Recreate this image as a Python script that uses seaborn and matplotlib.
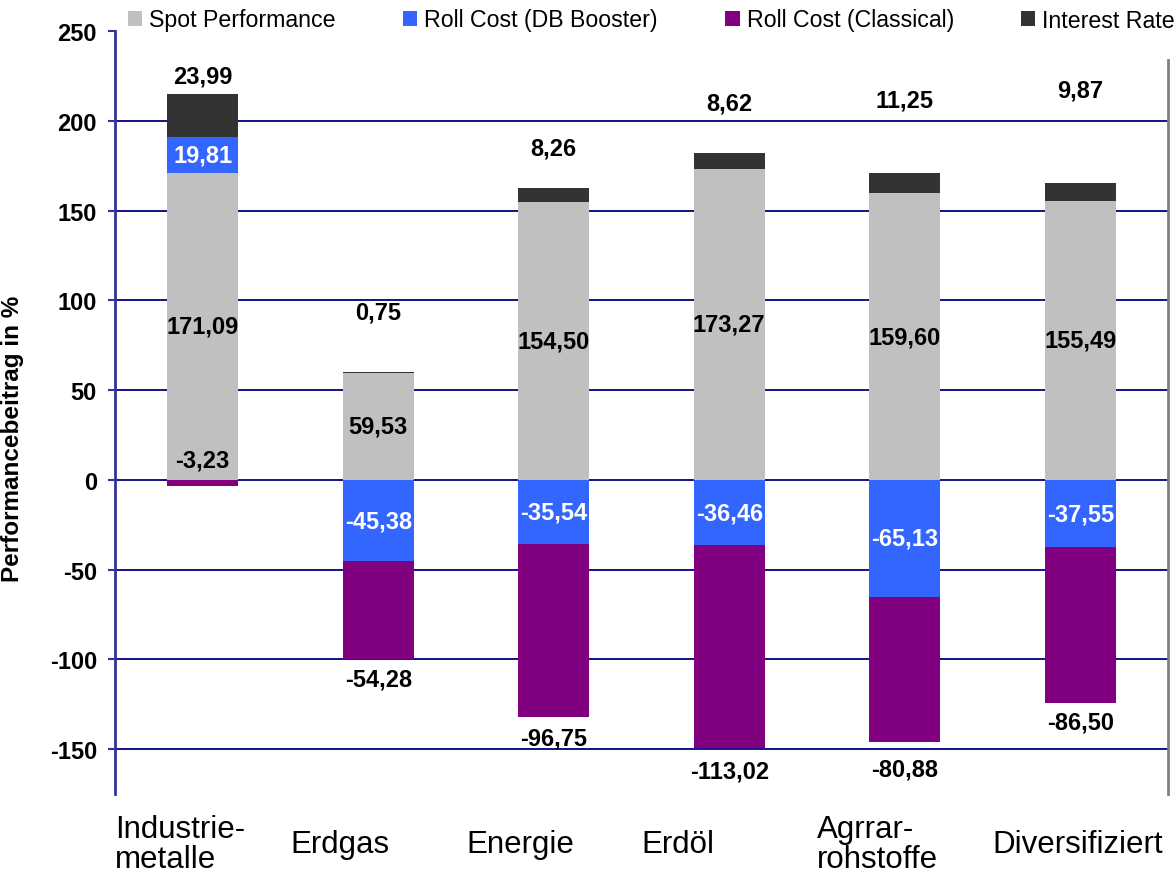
import matplotlib
matplotlib.use("Agg")
import matplotlib.pyplot as plt
import seaborn as sns
import numpy as np
from matplotlib.patches import Patch

categories = ["Industrie-\nmetalle", "Erdgas", "Energie", "Erdöl", "Agrrar-\nrohstoffe", "Diversifiziert"]
spot = [171.09, 59.53, 154.50, 173.27, 159.60, 155.49]
roll_booster = [19.81, -45.38, -35.54, -36.46, -65.13, -37.55]
roll_classical = [-3.23, -54.28, -96.75, -113.02, -80.88, -86.50]
interest = [23.99, 0.75, 8.26, 8.62, 11.25, 9.87]
series_names = ["Spot Performance", "Roll Cost (DB Booster)", "Roll Cost (Classical)", "Interest Rate"]
yticks = [-150, -100, -50, 0, 50, 100, 150, 200, 250]

# style / label placement (offsets in data units)
colors = ["#C0C0C0", "#3366FF", "#800080", "#333333"]
interest_label_offset = [10.1, 33.4, 22.1, 27.8, 40.8, 51.8]
classical_label_offset = [14.5, -11.4, -11.6, -12.7, -15.1, -10.9]

sns.set_theme(style="white")
plt.rcParams["font.family"] = ["Liberation Sans", "DejaVu Sans"]
plt.rcParams["text.color"] = "black"
plt.rcParams["axes.labelcolor"] = "black"
plt.rcParams["xtick.color"] = "black"
plt.rcParams["ytick.color"] = "black"

fig = plt.figure(figsize=(11.76, 8.79), dpi=100)
ax = fig.add_axes([115/1176, 1-795/879, (1168-115)/1176, (795-32)/879])

series = [spot, roll_booster, roll_classical, interest]
pos_cum = np.zeros(len(categories))
neg_cum = np.zeros(len(categories))
bottoms = []
for vals in series:
    v = np.array(vals, dtype=float)
    b = np.where(v >= 0, pos_cum, neg_cum)
    bottoms.append(b.copy())
    pos_cum = pos_cum + np.where(v >= 0, v, 0)
    neg_cum = neg_cum + np.where(v < 0, v, 0)

for vals, b, col in zip(series, bottoms, colors):
    sns.barplot(x=categories, y=vals, bottom=b, color=col, width=0.405,
                saturation=1, linewidth=0, ax=ax, zorder=3)

def fmt(v):
    return f"{v:.2f}".replace(".", ",")

lab_kw = dict(ha="center", va="center", fontsize=17, fontweight="bold", zorder=5)
for i in range(len(categories)):
    ax.text(i, bottoms[0][i] + spot[i] / 2, fmt(spot[i]), color="black", **lab_kw)
    ax.text(i, bottoms[1][i] + roll_booster[i] / 2, fmt(roll_booster[i]), color="white", **lab_kw)
    ax.text(i, neg_cum[i] + classical_label_offset[i], fmt(roll_classical[i]), color="black", **lab_kw)
    ax.text(i, pos_cum[i] + interest_label_offset[i], fmt(interest[i]), color="black", **lab_kw)

ax.set_xlim(-0.5, len(categories) - 0.5)
ax.set_ylim(-175, 250)
ax.set_yticks(yticks)
ax.set_yticklabels([str(t) for t in yticks], fontsize=17, fontweight="bold")
ax.tick_params(axis="y", direction="out", length=5, width=1.5, color="#333399",
               labelcolor="black", pad=8, left=True)

# category labels are left-aligned at the left edge of each category slot
ax.set_xticks(np.arange(len(categories)) - 0.5)
ax.set_xticklabels(categories, fontsize=22.5, ha="left", va="center",
                   multialignment="left", linespacing=1.0)
ax.tick_params(axis="x", length=0, pad=36, labelcolor="black")

for t in yticks:
    if t != 250:
        ax.axhline(t, color="#000080", linewidth=1.3, zorder=1)

ax.spines["top"].set_visible(False)
ax.spines["bottom"].set_visible(False)
ax.spines["left"].set_color("#333399")
ax.spines["left"].set_linewidth(2)
ax.spines["right"].set_color("#808080")
ax.spines["right"].set_linewidth(2)
ax.spines["right"].set_bounds(-175, 234)

ax.set_ylabel("Performancebeitrag in %", fontsize=17.5, fontweight="bold", color="black")
ax.yaxis.set_label_coords(-0.0864, 0.4666)
ax.set_xlabel("")

handles = [Patch(facecolor=c, edgecolor="none") for c in colors]
fig.legend(handles, series_names, loc="center left", bbox_to_anchor=(128/1176, 1-21/879),
           ncol=4, frameon=False, fontsize=16.7, handlelength=0.62, handleheight=0.62,
           handletextpad=0.3, columnspacing=2.9, borderpad=0, borderaxespad=0)

fig.savefig("out.png", dpi=100)
